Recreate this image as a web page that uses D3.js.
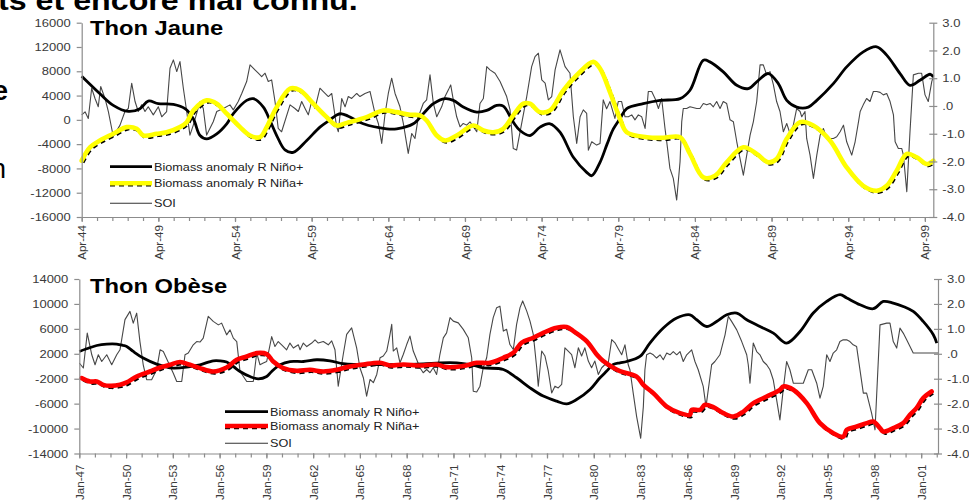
<!DOCTYPE html>
<html>
<head>
<meta charset="utf-8">
<script src="https://cdn.jsdelivr.net/npm/d3@7"></script>
<style>
  body { margin: 0; background: #fff; }
  svg { display: block; }
  text { font-family: "Liberation Sans", Arial, sans-serif; }
</style>
</head>
<body>
<svg id="chart" width="969" height="504"></svg>
<script>
// ---------------- Thon Jaune (yellowfin) ----------------
// [decimal year, biomass anomaly]
const jauneNino = [
  [1944.25,7180],[1945.44,4300],[1946.31,2380],[1947.29,1390],[1948.05,1840],[1948.59,3100],[1949.25,2660],
  [1950.23,2550],[1950.99,1840],[1951.53,180],[1951.97,-2580],[1952.40,-3130],[1953.06,-2300],[1953.71,-650],
  [1954.14,1010],[1955.01,3210],[1955.44,3490],[1956.10,2100],[1956.53,-100],[1956.97,-2580],[1957.51,-4950],
  [1958.05,-5350],[1958.93,-3400],[1959.79,-1200],[1960.45,0],[1960.88,800],[1961.21,1000],[1961.64,600],
  [1962.62,-650],[1964.15,-1470],[1964.80,-1470],[1965.88,-650],[1966.53,1010],[1967.19,2660],[1967.95,3490],
  [1968.49,3210],[1969.14,2100],[1970.02,1270],[1970.67,1550],[1971.32,2380],[1971.75,2270],[1972.40,-380],
  [1972.84,-1750],[1973.49,-2580],[1974.15,-1200],[1974.80,-650],[1975.45,-2040],[1976.32,-6170],[1977.19,-8650],
  [1977.52,-9200],[1978.06,-7000],[1978.52,-4000],[1978.93,-1500],[1979.36,200],[1979.80,1840],[1980.88,2660],
  [1981.97,3210],[1983.28,3490],[1983.93,4870],[1984.80,9830],[1985.23,9550],[1986.10,7900],[1986.98,5690],
  [1987.73,5150],[1988.39,6520],[1989.04,7630],[1989.69,5970],[1990.24,3210],[1990.89,2100],[1991.65,2100],
  [1992.20,3210],[1993.28,5970],[1994.15,8720],[1995.23,11200],[1996.11,12030],[1996.76,10660],[1997.63,7630],
  [1998.28,5690],[1998.93,6520],[1999.59,7510],[1999.80,7070]
];
const jauneNina = [
  [1944.25,-6720],[1944.79,-4520],[1945.44,-3400],[1946.31,-2300],[1947.19,-1200],[1947.84,-1470],[1948.27,-2580],
  [1949.14,-2300],[1949.79,-2040],[1950.66,-1200],[1951.10,-380],[1951.53,1550],[1952.40,3210],[1953.06,2660],
  [1953.71,1010],[1954.14,-100],[1954.58,-1200],[1955.23,-2580],[1955.88,-2860],[1956.32,-1200],[1956.53,-100],
  [1956.97,2100],[1957.84,5150],[1958.49,4870],[1959.36,2660],[1960.23,450],[1960.88,-930],[1961.54,-500],
  [1962.84,450],[1963.92,1550],[1964.80,1270],[1965.67,840],[1966.32,730],[1966.75,-100],[1967.41,-2580],
  [1967.95,-3400],[1968.71,-2580],[1969.79,-930],[1970.45,-1750],[1971.10,-2040],[1971.75,-1470],[1972.40,730],
  [1973.06,2660],[1973.49,2660],[1974.15,1270],[1974.80,1550],[1975.67,4870],[1976.54,7350],[1977.62,9550],
  [1978.06,8460],[1978.71,4580],[1979.36,180],[1979.80,-2040],[1981.11,-2860],[1982.19,-2960],[1983.28,-2860],
  [1983.93,-5610],[1984.80,-9480],[1985.56,-9200],[1986.32,-7000],[1987.41,-4520],[1988.28,-5610],[1989.04,-7000],
  [1989.58,-6440],[1990.24,-3130],[1991.11,-380],[1991.97,-930],[1993.06,-3400],[1994.15,-7830],[1995.23,-10860],
  [1996.11,-11680],[1996.76,-10860],[1997.41,-8370],[1998.07,-5610],[1998.72,-6170],[1999.37,-7270],[1999.80,-6720]
];
// [decimal year, SOI]
const jauneSoi = [
  [1944.25,-0.32],[1944.47,-0.21],[1944.68,-0.45],[1944.90,0.64],[1945.12,0.27],[1945.33,-0.03],[1945.49,0.70],
  [1945.77,0.27],[1945.99,-0.2],[1946.31,-1.1],[1946.75,-0.69],[1947.07,-0.2],[1947.29,-0.09],[1947.51,0.82],
  [1947.73,0.16],[1947.94,-0.2],[1948.16,0.04],[1948.38,-0.2],[1948.59,-0.03],[1948.92,-0.32],[1949.25,-0.03],
  [1949.47,-0.39],[1949.79,-0.2],[1950.01,1.36],[1950.23,1.66],[1950.45,1.24],[1950.66,1.6],[1950.88,0.64],
  [1951.10,-0.2],[1951.31,-1.05],[1951.53,-0.69],[1951.97,0.16],[1952.18,-0.09],[1952.40,-1.05],[1952.83,-0.57],
  [1953.06,-0.2],[1953.49,-0.09],[1953.92,0.04],[1954.14,-0.14],[1954.46,0.16],[1954.69,0.45],[1955.01,0.88],
  [1955.23,1.48],[1955.55,1.3],[1955.77,1.18],[1955.99,1.06],[1956.21,1.18],[1956.42,0.88],[1956.64,0.94],
  [1956.86,0.16],[1957.07,-0.81],[1957.29,-0.93],[1957.84,0.04],[1958.16,-0.09],[1958.38,-0.2],[1958.60,0.16],
  [1958.82,-0.09],[1959.03,-0.32],[1959.25,0.16],[1959.47,-0.09],[1959.79,0.64],[1960.01,0.52],[1960.34,0.34],
  [1960.56,0.45],[1960.88,-0.75],[1960.99,-0.93],[1961.21,0.27],[1961.43,-0.03],[1961.64,0.34],[1961.86,0.27],
  [1962.19,0.45],[1962.40,0.34],[1962.73,0.45],[1963.06,0.52],[1963.38,-0.27],[1963.60,-0.63],[1963.82,-1.35],
  [1964.04,-0.27],[1964.25,0.45],[1964.47,1.0],[1964.69,0.45],[1965.01,-0.03],[1965.23,-0.63],[1965.55,-1.71],
  [1965.78,-0.99],[1965.99,-1.17],[1966.21,-0.39],[1966.53,0.09],[1966.75,0.22],[1966.97,1.12],[1967.19,0.09],
  [1967.41,-0.39],[1967.73,-0.03],[1967.95,0.34],[1968.17,0.58],[1968.32,0.76],[1968.49,0.22],[1968.71,-0.39],
  [1968.93,-0.75],[1969.14,-0.63],[1969.36,-0.69],[1969.58,-0.57],[1969.79,-0.75],[1970.02,-0.93],[1970.23,0.09],
  [1970.45,0.27],[1970.67,1.42],[1970.88,1.3],[1971.21,1.18],[1971.54,0.88],[1971.97,0.34],[1972.19,-0.14],
  [1972.40,-1.53],[1972.62,-1.59],[1972.95,-0.63],[1973.28,0.34],[1973.60,1.42],[1973.82,1.78],[1974.04,1.9],
  [1974.26,0.94],[1974.48,0.82],[1974.69,0.22],[1974.91,0.34],[1975.13,1.3],[1975.45,2.02],[1975.78,1.42],
  [1976.10,1.18],[1976.32,-0.39],[1976.54,-1.35],[1976.76,-0.39],[1976.97,-0.14],[1977.19,-0.27],[1977.30,-1.59],
  [1977.52,-1.29],[1977.84,-1.41],[1978.06,-1.35],[1978.27,0.22],[1978.49,-0.1],[1978.71,0.16],[1979.03,-0.45],
  [1979.25,0.16],[1979.47,0.16],[1979.69,-0.39],[1979.91,-0.39],[1980.13,-0.32],[1980.34,-0.5],[1980.56,-0.32],
  [1980.78,-0.39],[1981.00,-0.81],[1981.21,0.52],[1981.43,0.52],[1981.65,0.27],[1981.87,-0.09],[1982.08,0.27],
  [1982.30,-0.81],[1982.41,-1.29],[1982.62,-2.25],[1982.84,-2.61],[1983.06,-3.39],[1983.28,-2.01],[1983.39,-0.57],
  [1983.49,-0.09],[1983.71,-0.09],[1983.93,-0.03],[1984.37,-0.09],[1984.58,-0.09],[1984.80,0.09],[1985.02,0.04],
  [1985.24,0.09],[1985.45,-0.03],[1985.67,0.16],[1985.89,-0.09],[1986.10,0.16],[1986.32,0.09],[1986.54,-0.5],
  [1986.76,-0.57],[1986.98,-1.29],[1987.19,-1.89],[1987.41,-2.49],[1987.63,-1.77],[1987.85,-1.05],[1988.06,-0.57],
  [1988.28,0.16],[1988.50,1.48],[1988.71,1.48],[1988.93,1.12],[1989.15,1.24],[1989.37,0.76],[1989.58,0.16],
  [1989.80,-0.2],[1990.02,-0.93],[1990.24,-0.63],[1990.45,-0.99],[1990.67,-0.69],[1990.89,-0.09],[1991.11,-0.2],
  [1991.22,-0.39],[1991.43,-0.2],[1991.54,-1.17],[1991.76,-1.77],[1991.98,-2.61],[1992.20,-1.77],[1992.42,-1.05],
  [1992.63,-0.81],[1992.85,-1.17],[1993.07,-1.17],[1993.28,-1.17],[1993.50,-1.11],[1993.72,-0.93],[1993.94,-0.69],
  [1994.15,-1.29],[1994.48,-1.77],[1994.70,-1.29],[1994.92,-0.57],[1995.03,-0.2],[1995.23,0.04],[1995.45,0.27],
  [1995.67,0.16],[1995.89,0.52],[1996.11,0.52],[1996.33,0.49],[1996.54,0.4],[1996.76,0.45],[1996.98,0.16],
  [1997.20,-0.32],[1997.31,-1.29],[1997.52,-1.53],[1997.74,-1.53],[1997.85,-1.77],[1998.07,-3.09],[1998.28,-0.93],
  [1998.50,1.12],[1998.83,1.18],[1999.04,1.18],[1999.26,0.4],[1999.47,0.16],[1999.70,0.88],[1999.80,1.06]
];
const jauneLeftTicks = [-16000,-12000,-8000,-4000,0,4000,8000,12000,16000];
const jauneDateLabels = ["Apr-44","Apr-49","Apr-54","Apr-59","Apr-64","Apr-69","Apr-74","Apr-79","Apr-84","Apr-89","Apr-94","Apr-99"];

// ---------------- Thon Obèse (bigeye) ----------------
const obeseNino = [
  [1947.00,2370],[1947.47,2800],[1948.12,3330],[1948.76,3560],[1949.40,3560],[1949.82,3330],[1950.04,3170],
  [1950.46,2370],[1951.10,1310],[1951.96,350],[1953.03,-300],[1954.10,-40],[1954.74,230],[1955.59,870],
  [1956.02,870],[1956.45,670],[1956.88,-40],[1957.31,-840],[1957.95,-1650],[1958.48,-2020],[1959.02,-1650],
  [1959.34,-840],[1959.88,230],[1960.52,760],[1961.37,760],[1962.23,1040],[1963.08,870],[1963.93,400],
  [1964.79,280],[1967.36,280],[1969.06,390],[1970.13,550],[1971.21,550],[1972.06,280],[1972.91,-250],
  [1974.20,-520],[1975.05,-1850],[1975.91,-3460],[1976.76,-4790],[1977.62,-5600],[1978.26,-6030],[1978.90,-5340],
  [1979.76,-3730],[1980.40,-1850],[1980.83,-780],[1981.25,280],[1981.68,550],[1982.11,760],[1982.96,1570],
  [1983.60,3720],[1984.46,6130],[1985.32,7730],[1986.17,8260],[1986.60,7460],[1987.24,6380],[1987.88,7190],
  [1988.53,8260],[1989.17,8540],[1989.81,7460],[1990.66,6380],[1991.52,5320],[1992.37,3720],[1993.23,5580],
  [1994.08,8540],[1994.94,10400],[1995.80,11480],[1996.23,10950],[1997.08,9870],[1997.93,9230],[1998.57,10400],
  [1999.21,10140],[1999.85,9600],[2000.49,8790],[2001.13,7190],[2001.78,5050],[2002.00,3720]
];
const obeseNina = [
  [1947.15,-1900],[1947.69,-2450],[1948.12,-2450],[1948.54,-2980],[1948.97,-3140],[1949.61,-2980],[1950.04,-2600],
  [1950.68,-1650],[1951.53,-840],[1952.18,-200],[1952.82,230],[1953.46,670],[1954.10,230],[1954.74,-300],
  [1955.59,-840],[1956.45,-200],[1957.10,1040],[1957.74,1570],[1958.38,2110],[1959.02,1950],[1959.44,760],
  [1960.08,-300],[1960.94,-730],[1961.80,-570],[1962.65,-840],[1963.51,-570],[1964.25,-100],[1965.22,280],
  [1966.29,550],[1966.93,120],[1967.78,280],[1968.85,120],[1969.92,280],[1970.56,-140],[1971.63,30],
  [1972.49,550],[1973.34,550],[1974.20,1360],[1974.84,2160],[1975.37,3770],[1976.12,4570],[1976.76,5370],
  [1977.62,6180],[1978.26,6290],[1978.69,5650],[1979.54,4040],[1980.19,1890],[1980.61,830],[1981.25,-250],
  [1981.68,-780],[1982.75,-1650],[1983.18,-2980],[1983.82,-4310],[1984.68,-6460],[1985.53,-7520],[1986.17,-7800],
  [1986.28,-6990],[1986.82,-6990],[1987.14,-6190],[1987.67,-6560],[1988.31,-7520],[1988.96,-8070],[1989.60,-7270],
  [1990.24,-5920],[1991.09,-4860],[1991.94,-3780],[1992.16,-3250],[1992.80,-3780],[1993.66,-5920],[1994.51,-9130],
  [1995.37,-10740],[1996.01,-11280],[1996.23,-10200],[1996.87,-9670],[1997.51,-9130],[1997.93,-8870],[1998.36,-9930],
  [1998.57,-10480],[1999.21,-9930],[1999.85,-9130],[2000.28,-7800],[2000.70,-6720],[2001.13,-5110],[2001.67,-4050]
];
const obeseSoi = [
  [1947.00,-0.37],[1947.26,-0.57],[1947.51,0.83],[1947.80,-0.04],[1948.01,-0.44],[1948.22,-0.04],[1948.44,-0.31],
  [1948.76,-0.04],[1949.08,-0.44],[1949.40,-0.04],[1949.61,0.16],[1949.93,1.37],[1950.25,1.7],[1950.46,1.23],
  [1950.68,1.63],[1950.89,0.49],[1951.10,-0.44],[1951.32,-1.04],[1951.64,-1.04],[1951.96,-0.64],[1952.18,0.16],
  [1952.39,0.09],[1953.03,-0.78],[1953.25,-1.11],[1953.57,-1.11],[1953.78,-0.04],[1953.99,0.03],[1954.31,0.36],
  [1954.53,0.49],[1954.74,0.47],[1954.95,0.63],[1955.27,1.5],[1955.59,1.3],[1955.92,1.16],[1956.13,1.23],
  [1956.45,0.76],[1956.67,0.96],[1956.88,0.63],[1957.10,0.49],[1957.31,-0.71],[1957.74,-1.11],[1958.16,-1.11],
  [1958.38,0.03],[1958.59,-0.44],[1958.80,-0.37],[1959.02,-0.31],[1959.34,0.69],[1959.55,0.29],[1959.76,0.49],
  [1959.98,0.36],[1960.30,0.16],[1960.51,0.43],[1960.73,0.23],[1961.05,0.36],[1961.16,0.16],[1961.37,0.43],
  [1961.59,0.29],[1961.91,0.43],[1962.12,0.56],[1962.33,0.43],[1962.65,0.49],[1962.97,0.36],[1963.19,0.52],
  [1963.40,0.16],[1963.61,-1.3],[1963.93,-0.03],[1964.15,0.78],[1964.47,1.04],[1964.79,0.24],[1965.00,-0.56],
  [1965.22,-0.96],[1965.43,-1.7],[1965.65,-1.03],[1965.86,-1.16],[1966.08,-0.83],[1966.29,-0.16],[1966.50,-0.09],
  [1966.72,0.11],[1966.93,0.78],[1967.04,1.18],[1967.14,0.11],[1967.36,0.24],[1967.57,-0.36],[1967.78,-0.03],
  [1968.00,0.37],[1968.21,0.71],[1968.42,0.11],[1968.64,-0.23],[1968.85,-0.56],[1969.06,-0.76],[1969.28,-0.63],
  [1969.49,-0.76],[1969.70,-0.56],[1969.92,-0.83],[1970.13,-0.03],[1970.35,0.64],[1970.56,0.84],[1970.78,1.45],
  [1970.99,1.31],[1971.31,1.24],[1971.63,0.98],[1971.95,0.64],[1972.17,-0.16],[1972.27,-1.5],[1972.49,-1.53],
  [1972.70,-1.3],[1972.91,-0.56],[1973.13,-0.16],[1973.34,0.78],[1973.55,1.45],[1973.77,1.85],[1973.98,1.91],
  [1974.20,0.91],[1974.41,0.98],[1974.62,0.37],[1974.84,0.17],[1975.05,1.18],[1975.27,1.85],[1975.44,2.12],
  [1975.70,1.71],[1975.91,1.31],[1976.12,0.78],[1976.34,-0.56],[1976.44,-1.3],[1976.66,0.11],[1976.87,-0.09],
  [1977.08,-0.69],[1977.30,-1.57],[1977.51,-1.3],[1977.72,-1.37],[1977.94,-1.23],[1978.15,0.24],[1978.36,0.11],
  [1978.58,-0.03],[1978.79,-0.56],[1979.01,0.24],[1979.22,-0.09],[1979.43,0.24],[1979.65,-0.29],[1979.86,-0.56],
  [1980.07,-0.29],[1980.29,-0.83],[1980.51,-0.56],[1980.72,-0.43],[1980.93,-0.36],[1981.15,0.57],[1981.36,0.44],
  [1981.57,0.2],[1981.79,-0.04],[1982.00,0.36],[1982.21,-0.44],[1982.32,-0.64],[1982.53,-1.58],[1982.75,-2.52],
  [1983.01,-3.39],[1983.18,-2.12],[1983.28,-0.64],[1983.39,-0.04],[1983.61,0.03],[1983.82,-0.04],[1984.03,-0.17],
  [1984.25,-0.04],[1984.46,-0.24],[1984.68,0.03],[1984.89,-0.04],[1985.10,0.09],[1985.32,-0.04],[1985.53,0.09],
  [1985.74,-0.31],[1985.96,-0.04],[1986.28,0.16],[1986.49,-0.31],[1986.70,-0.64],[1987.02,-1.31],[1987.20,-2.12],
  [1987.56,-0.44],[1987.77,-0.31],[1988.09,-0.04],[1988.42,0.76],[1988.63,1.5],[1988.84,1.3],[1989.17,0.96],
  [1989.49,0.49],[1989.81,-0.04],[1989.91,-0.44],[1990.02,-1.18],[1990.23,0.43],[1990.45,0.09],[1990.66,-0.04],
  [1990.87,-0.31],[1991.09,-0.44],[1991.30,-0.64],[1991.51,-1.04],[1991.73,-1.85],[1991.94,-2.65],[1992.15,-1.45],
  [1992.37,-0.31],[1992.58,-0.64],[1992.80,-1.18],[1993.12,-1.18],[1993.44,-1.18],[1993.76,-0.64],[1993.98,-0.64],
  [1994.30,-1.18],[1994.51,-1.78],[1994.72,-1.31],[1994.94,-0.04],[1995.15,-0.31],[1995.36,0.03],[1995.58,0.16],
  [1995.79,0.49],[1996.00,0.56],[1996.22,0.56],[1996.43,0.49],[1996.64,0.36],[1996.86,0.29],[1997.29,-1.58],
  [1997.50,-1.58],[1997.82,-2.38],[1998.04,-3.05],[1998.36,1.16],[1998.79,1.23],[1999.00,1.23],[1999.21,0.49],
  [1999.43,0.23],[1999.64,1.03],[1999.85,0.83],[2000.07,0.56],[2000.49,0.03],[2001.13,0.03],[2001.78,0.03],[2002.08,0.03]
];
const obeseLeftTicks = [-14000,-10000,-6000,-2000,2000,6000,10000,14000];
const obeseDateLabels = ["Jan-47","Jan-50","Jan-53","Jan-56","Jan-59","Jan-62","Jan-65","Jan-68","Jan-71","Jan-74",
  "Jan-77","Jan-80","Jan-83","Jan-86","Jan-89","Jan-92","Jan-95","Jan-98","Jan-01"];

// SOI axis (right side, both panels)
const soiTicks = [3, 2, 1, 0, -1, -2, -3, -4];
const soiTickLabels = ["3.0", "2.0", "1.0", ".0", "-1.0", "-2.0", "-3.0", "-4.0"];
const legendLabels = ["Biomass anomaly R Niño+", "Biomass anomaly R Niña+", "SOI"];

const svg = d3.select("#chart");
const AXIS = "#8c8c8c";
const LABEL = "#3a3a3a";
const WIDEN = 1.12;   // the whole figure is slightly wider than tall

function widen(sel, k) {
  sel.each(function () {
    const w = this.getComputedTextLength();
    if (w > 0) {
      this.setAttribute("textLength", (w * k).toFixed(1));
      this.setAttribute("lengthAdjust", "spacingAndGlyphs");
    }
  });
}

function drawPanel(p) {
  const g = svg.append("g");
  const x = d3.scaleLinear().domain(p.xDomain).range(p.xRange);
  const yL = d3.scaleLinear().domain(p.leftDomain).range(p.yRange);
  const yR = d3.scaleLinear().domain([-4, 3]).range(p.yRange);
  const [xa, xb] = p.xRange;
  const [yBottom, yTop] = p.yRange;

  // SOI: thin jagged line on the right axis
  const soiLine = d3.line().x(d => x(d[0])).y(d => yR(d[1]));
  g.append("path").datum(p.soi).attr("d", soiLine)
    .attr("fill", "none").attr("stroke", "#474747").attr("stroke-width", 1.1)
    .attr("stroke-linejoin", "round");

  // biomass anomalies on the left axis
  const bioLine = d3.line().curve(d3.curveCatmullRom.alpha(0.5))
    .x(d => x(d[0])).y(d => yL(d[1]));
  g.append("path").datum(p.nino).attr("d", bioLine)
    .attr("fill", "none").attr("stroke", "#000").attr("stroke-width", 2.8)
    .attr("stroke-linejoin", "round");
  g.append("path").datum(p.nina).attr("d", bioLine)
    .attr("fill", "none").attr("stroke", "#000").attr("stroke-width", 2.6)
    .attr("stroke-dasharray", "5,4").attr("transform", "translate(1.5,2)");
  g.append("path").datum(p.nina).attr("d", bioLine)
    .attr("fill", "none").attr("stroke", p.ninaColor).attr("stroke-width", 4.6)
    .attr("stroke-linejoin", "round").attr("stroke-linecap", "round");

  // left axis
  const left = g.append("g").attr("transform", `translate(${xa},0)`)
    .call(d3.axisLeft(yL).tickValues(p.leftTicks).tickSize(5).tickSizeOuter(0)
      .tickPadding(6).tickFormat(d => String(d)));
  // right axis (ticks cross the line)
  const right = g.append("g").attr("transform", `translate(${xb},0)`)
    .call(d3.axisRight(yR).tickValues(soiTicks).tickSize(4).tickSizeOuter(0)
      .tickPadding(5).tickFormat((d, i) => soiTickLabels[i]));
  right.selectAll(".tick line").attr("x1", -4);

  // bottom axis: yearly ticks, labelled every few years
  const years = d3.range(p.xDomain[0], p.xDomain[1] + 1e-6, 1);
  g.append("g").attr("transform", `translate(0,${yBottom})`)
    .call(d3.axisBottom(x).tickValues(years).tickSize(4).tickSizeOuter(0).tickFormat(""));
  const majors = p.dateLabels.map((_, i) => p.xDomain[0] + i * p.labelStep);
  const bottom = g.append("g").attr("transform", `translate(0,${yBottom})`)
    .call(d3.axisBottom(x).tickValues(majors).tickSize(5).tickSizeOuter(0)
      .tickFormat((d, i) => p.dateLabels[i]));
  bottom.select(".domain").remove();
  bottom.selectAll(".tick text")
    .attr("transform", "rotate(-90)").attr("text-anchor", "end")
    .attr("x", -p.labelGap).attr("y", 0).attr("dy", "0.35em");

  g.selectAll(".domain, .tick line").attr("stroke", AXIS).attr("stroke-width", 1.2);
  g.selectAll(".tick text").attr("fill", LABEL).attr("font-size", 11.6)
    .attr("font-family", '"Liberation Sans", Arial, sans-serif');
  widen(left.selectAll(".tick text"), WIDEN);
  widen(right.selectAll(".tick text"), WIDEN);

  // title
  const title = g.append("text").attr("x", p.titleX).attr("y", p.titleY)
    .attr("font-size", 21).attr("font-weight", "bold").attr("fill", "#000").text(p.title);
  widen(title, 1.13);

  // legend
  const L = p.legend;
  const rows = L.rows;
  g.append("line").attr("x1", L.x0).attr("x2", L.x1).attr("y1", rows[0]).attr("y2", rows[0])
    .attr("stroke", "#000").attr("stroke-width", 2.8);
  g.append("line").attr("x1", L.x0).attr("x2", L.x1).attr("y1", rows[1] + 2).attr("y2", rows[1] + 2)
    .attr("stroke", "#000").attr("stroke-width", 2.6).attr("stroke-dasharray", "5,4");
  g.append("line").attr("x1", L.x0).attr("x2", L.x1).attr("y1", rows[1]).attr("y2", rows[1])
    .attr("stroke", p.ninaColor).attr("stroke-width", 4.6);
  g.append("line").attr("x1", L.x0).attr("x2", L.x1).attr("y1", rows[2]).attr("y2", rows[2])
    .attr("stroke", "#333").attr("stroke-width", 1.1);
  const lt = g.selectAll("text.leg").data(legendLabels).join("text").attr("class", "leg")
    .attr("x", L.x1 + 2).attr("y", (d, i) => rows[i]).attr("dy", "0.36em")
    .attr("font-size", 11.3).attr("fill", "#222").text(d => d);
  widen(lt, WIDEN);
}

drawPanel({
  title: "Thon Jaune", titleX: 90, titleY: 35,
  xDomain: [1944.25, 1999.8], xRange: [81.7, 933.3],
  leftDomain: [-16000, 16000], yRange: [217, 22.7],
  leftTicks: jauneLeftTicks, dateLabels: jauneDateLabels, labelStep: 5, labelGap: 8,
  nino: jauneNino, nina: jauneNina, soi: jauneSoi, ninaColor: "#ffff00",
  legend: { x0: 110, x1: 152, rows: [166.7, 183.3, 203.3] }
});

drawPanel({
  title: "Thon Obèse", titleX: 90, titleY: 292.5,
  xDomain: [1947, 2002.08], xRange: [79.3, 938],
  leftDomain: [-14000, 14000], yRange: [453.5, 279],
  leftTicks: obeseLeftTicks, dateLabels: obeseDateLabels, labelStep: 3, labelGap: 11,
  nino: obeseNino, nina: obeseNina, soi: obeseSoi, ninaColor: "#ff0000",
  legend: { x0: 225, x1: 268, rows: [411.7, 426, 443.3] }
});

// surrounding page text, cut by the frame
const head = svg.append("text").attr("x", -2).attr("y", 10)
  .attr("font-size", 28).attr("font-weight", "bold").attr("fill", "#000")
  .text("ts et encore mal connu.");
widen(head, 1.15);
svg.append("text").attr("x", -7).attr("y", 100)
  .attr("font-family", '"Liberation Serif", "Times New Roman", serif')
  .attr("font-size", 27).attr("font-weight", "bold").text("e");
svg.append("text").attr("x", -9).attr("y", 178)
  .attr("font-family", '"Liberation Serif", "Times New Roman", serif')
  .attr("font-size", 27).text("n");
</script>
</body>
</html>
